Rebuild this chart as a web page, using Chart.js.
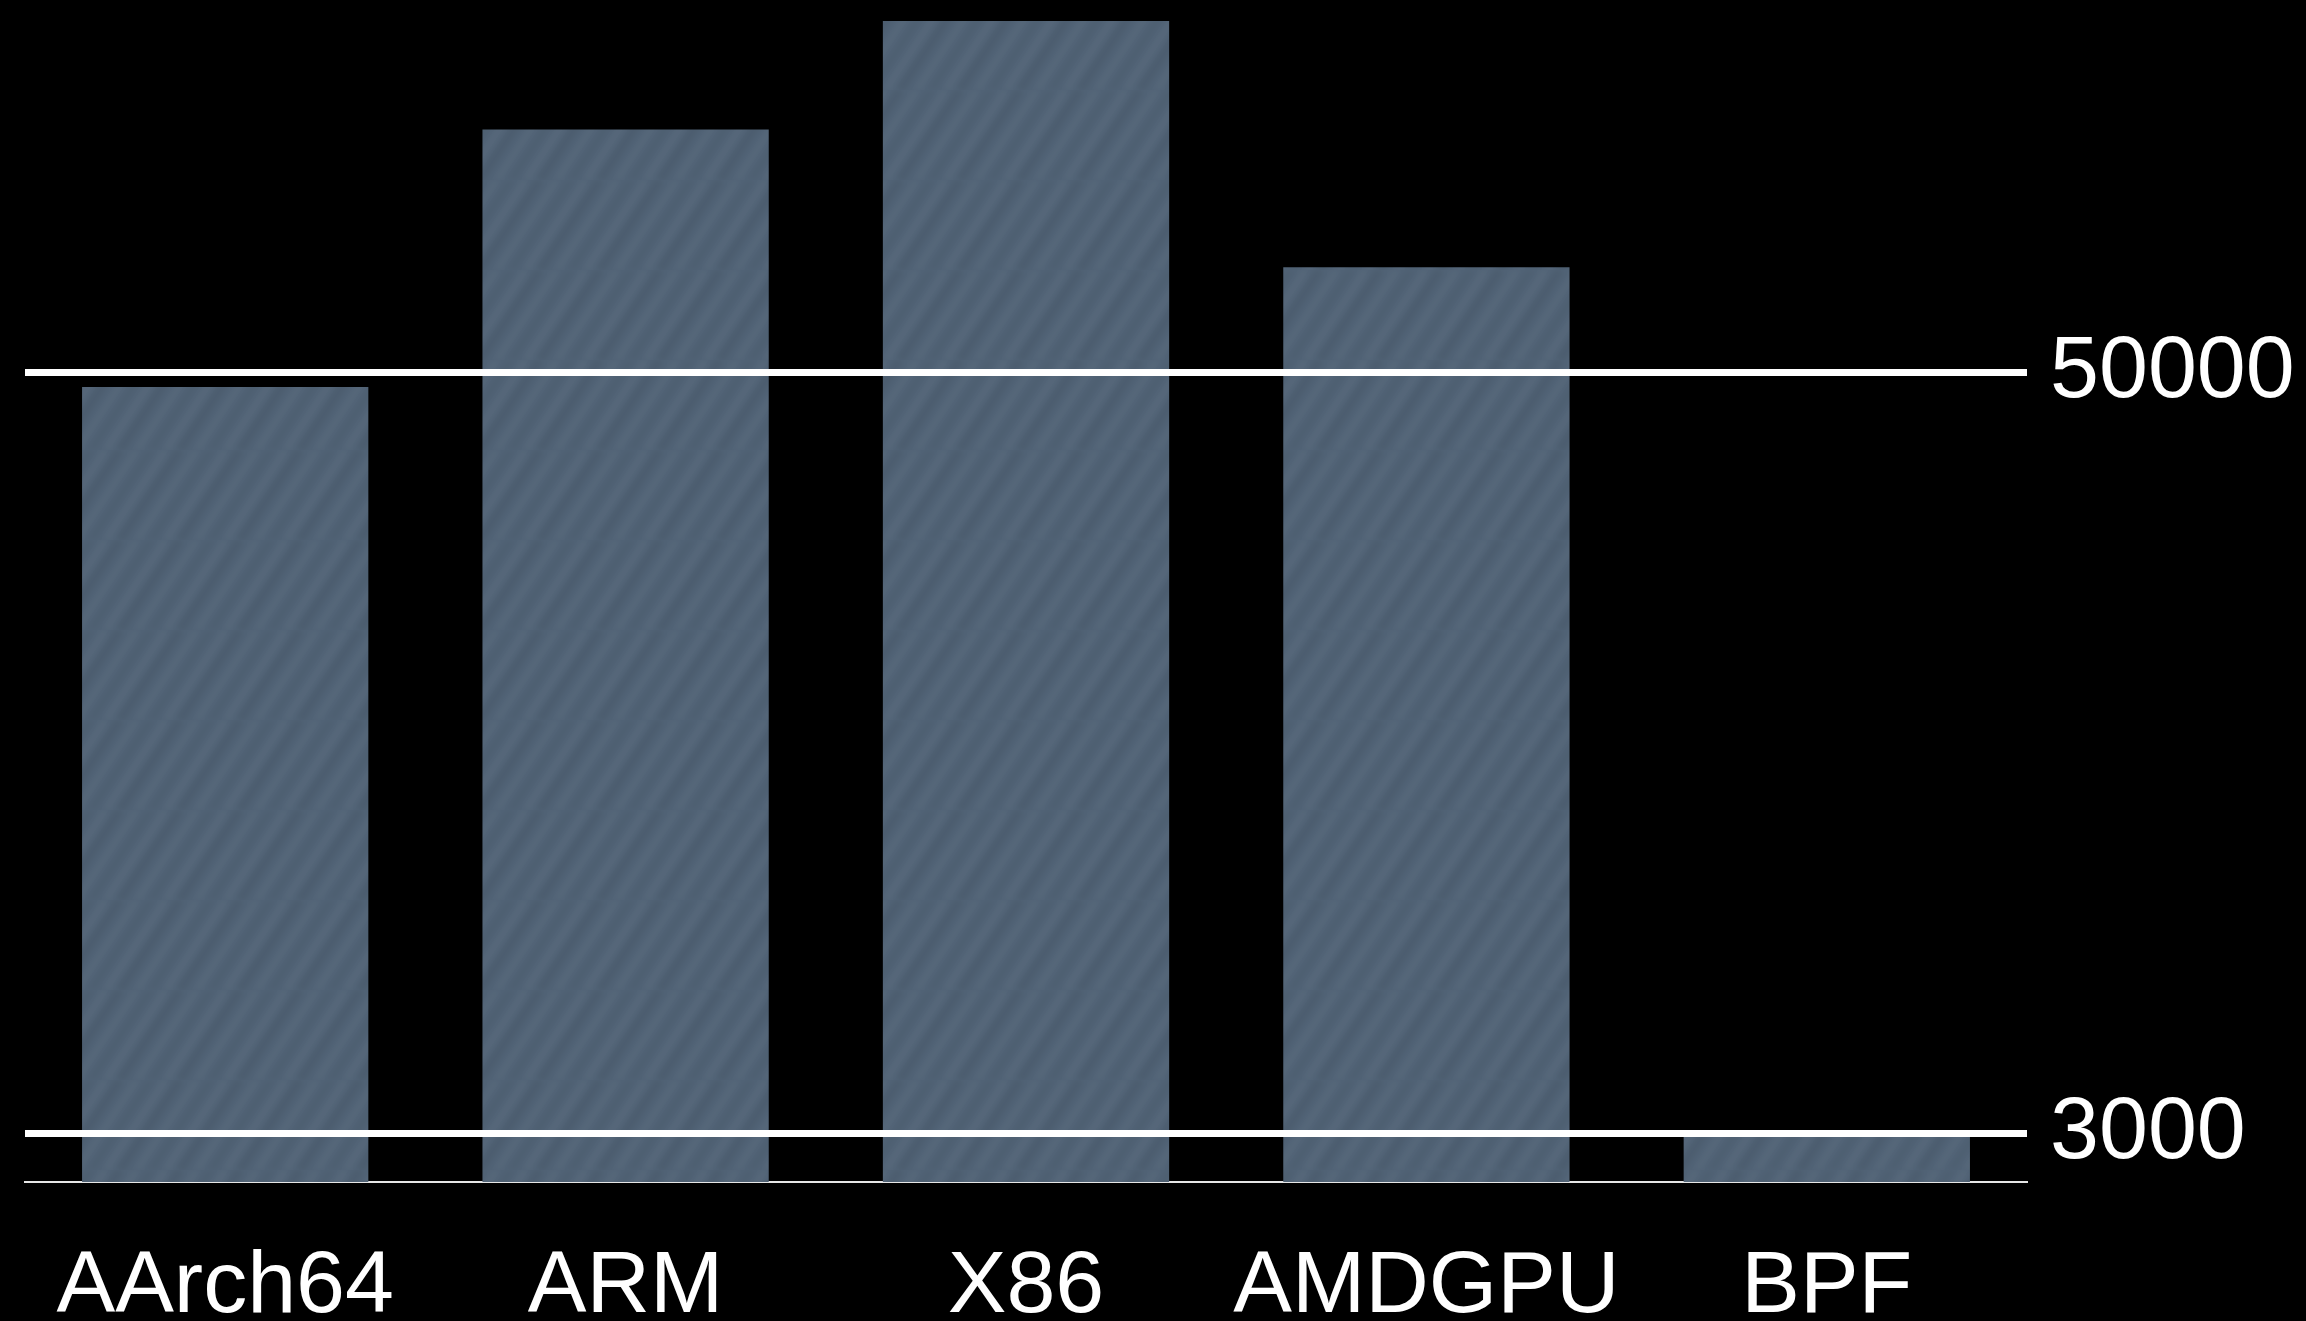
<!DOCTYPE html>
<html>
<head>
<meta charset="utf-8">
<script src="https://cdn.jsdelivr.net/npm/chart.js@4/dist/chart.umd.min.js"></script>
<style>
    html, body { margin: 0; padding: 0; background: #000; }
    #wrap { width: 2306px; height: 1321px; }
</style>
</head>
<body>
<div id="wrap"><canvas id="chart" width="2306" height="1321"></canvas></div>
<script>
// data
const categories = ['AArch64', 'ARM', 'X86', 'AMDGPU', 'BPF'];
const values = [49100, 65000, 71700, 56500, 2800];
const refLines = [3000, 50000];

// soft brushed diagonal texture for the bars
function makeBarPattern() {
    const w = 60, h = 90;
    const c = document.createElement('canvas');
    c.width = w;
    c.height = h;
    const g = c.getContext('2d');
    g.fillStyle = '#516376';
    g.fillRect(0, 0, w, h);
    g.filter = 'blur(3px)';
    // streak offsets and strengths within one tile
    const streaks = [[0, 'rgba(0,0,0,0.07)', 7], [17, 'rgba(255,255,255,0.035)', 6],
                     [31, 'rgba(0,0,0,0.05)', 5], [46, 'rgba(255,255,255,0.03)', 8]];
    for (let dx = -w; dx <= w; dx += w) {
        streaks.forEach(([o, col, lw]) => {
            g.strokeStyle = col;
            g.lineWidth = lw;
            g.beginPath();
            g.moveTo(dx + o, h);
            g.lineTo(dx + o + w, 0);
            g.stroke();
        });
    }
    return g.createPattern(c, 'repeat');
}

const ctx = document.getElementById('chart').getContext('2d');
new Chart(ctx, {
    type: 'bar',
    data: {
        labels: categories,
        datasets: [{
            data: values,
            backgroundColor: makeBarPattern(),
            borderWidth: 0,
            barPercentage: 0.715,
            categoryPercentage: 1
        }]
    },
    options: {
        responsive: false,
        animation: false,
        events: [],
        layout: { padding: { left: 25, right: 0, top: 0, bottom: 0 } },
        plugins: {
            legend: { display: false },
            tooltip: { enabled: false }
        },
        scales: {
            x: {
                grid: { display: false, drawTicks: false },
                border: { display: true, color: '#e6e6e6', width: 2 },
                ticks: {
                    color: '#fff',
                    padding: 53,
                    font: { family: 'Liberation Sans, Arial, sans-serif', size: 88 }
                },
                afterFit: s => { s.height = 139; }
            },
            y: {
                position: 'right',
                min: 0,
                max: 73000,
                afterBuildTicks: s => { s.ticks = refLines.map(v => ({ value: v })); },
                grid: { color: '#fff', lineWidth: 7, drawTicks: false, z: 1 },
                border: { display: false },
                ticks: {
                    color: '#fff',
                    padding: 23,
                    callback: v => String(v),
                    font: { family: 'Liberation Sans, Arial, sans-serif', size: 88 }
                },
                afterFit: s => {
                    s.width = 279;
                    s.paddingTop = 0;
                    s.paddingBottom = 0;
                }
            }
        }
    }
});
</script>
</body>
</html>
